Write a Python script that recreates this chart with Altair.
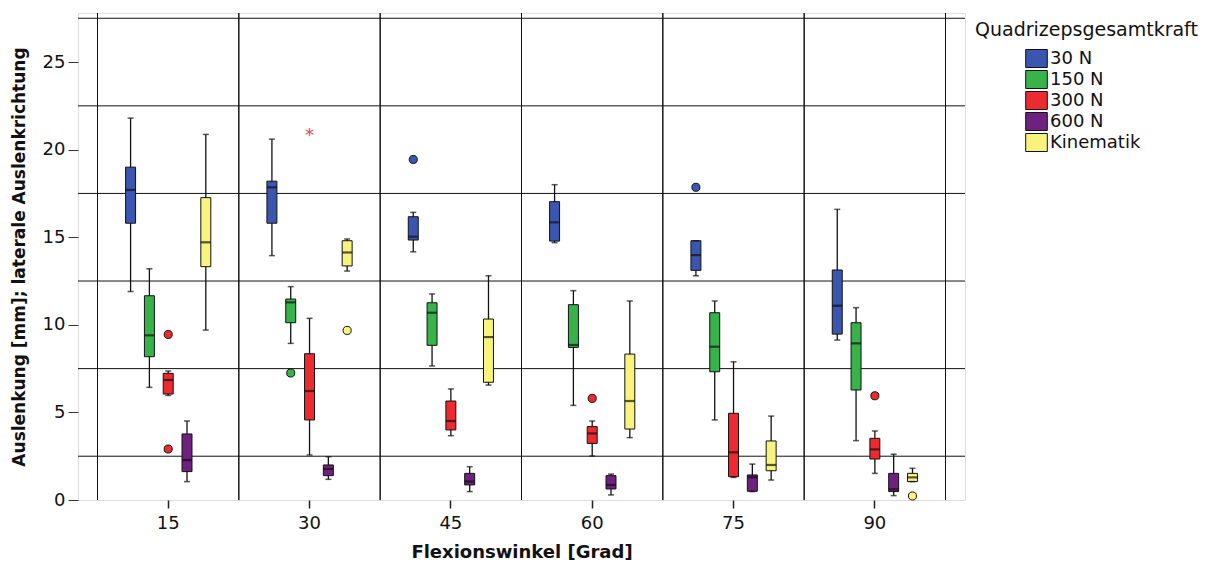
import altair as alt
import pandas as pd

# ---- data ----
angles = [15, 30, 45, 60, 75, 90]
series = ["30 N", "150 N", "300 N", "600 N", "Kinematik"]
colors = ["#3b56b1", "#37b34a", "#ec2a30", "#6f2180", "#f8f37c"]

# per series, one value per angle: lower whisker, Q1, median, Q3, upper whisker
lo = {
    "30 N":      [11.9, 13.95, 14.17, 14.69, 12.8, 9.13],
    "150 N":     [6.43, 8.94, 7.65, 5.40, 4.57, 3.39],
    "300 N":     [5.97, 2.57, 3.67, 2.51, 1.29, 1.52],
    "600 N":     [1.05, 1.18, 0.48, 0.29, 0.48, 0.25],
    "Kinematik": [9.70, 13.07, 6.56, 3.56, 1.14, 1.05],
}
q1 = {
    "30 N":      [15.8, 15.8, 14.84, 14.78, 13.11, 9.47],
    "150 N":     [8.18, 10.12, 8.83, 8.71, 7.32, 6.28],
    "300 N":     [6.05, 4.57, 4.00, 3.23, 1.33, 2.34],
    "600 N":     [1.62, 1.39, 0.86, 0.63, 0.50, 0.48],
    "Kinematik": [13.32, 13.36, 6.72, 4.05, 1.67, 1.05],
}
med = {
    "30 N":      [17.7, 17.85, 15.03, 15.85, 13.98, 11.09],
    "150 N":     [9.4, 11.28, 10.69, 8.85, 8.75, 8.94],
    "300 N":     [6.85, 6.22, 4.51, 3.80, 2.72, 2.89],
    "600 N":     [2.28, 1.77, 1.05, 0.86, 1.30, 0.61],
    "Kinematik": [14.71, 14.13, 9.30, 5.65, 2.0, 1.29],
}
q3 = {
    "30 N":      [19.0, 18.2, 16.17, 17.03, 14.8, 13.13],
    "150 N":     [11.66, 11.47, 11.26, 11.15, 10.69, 10.12],
    "300 N":     [7.23, 8.35, 5.65, 4.19, 4.95, 3.52],
    "600 N":     [3.77, 2.0, 1.52, 1.39, 1.43, 1.52],
    "Kinematik": [17.26, 14.8, 10.33, 8.33, 3.37, 1.52],
}
hi = {
    "30 N":      [21.8, 20.6, 16.42, 18.0, 14.8, 16.59],
    "150 N":     [13.2, 12.18, 11.76, 11.95, 11.36, 10.98],
    "300 N":     [7.36, 10.37, 6.34, 4.51, 7.89, 3.94],
    "600 N":     [4.51, 2.47, 1.90, 1.48, 2.05, 2.61],
    "Kinematik": [20.87, 14.9, 12.8, 11.36, 4.79, 1.81],
}

# outliers (circles) and extreme values (asterisks)
out_angle = [15, 15, 30, 30, 45, 60, 75, 90, 90]
out_series = ["300 N", "300 N", "150 N", "Kinematik", "30 N", "300 N", "30 N", "300 N", "Kinematik"]
out_value = [9.45, 2.91, 7.25, 9.68, 19.44, 5.80, 17.85, 5.95, 0.23]

ext_angle = [30]
ext_series = ["300 N"]
ext_value = [21.02]

y_ticks = [0, 5, 10, 15, 20, 25]
h_grid = [2.5, 7.5, 12.5, 17.5, 22.5, 27.5]

# ---- tables ----
rows = []
for s in series:
    for i, a in enumerate(angles):
        rows.append(dict(angle=a, series=s, lo=lo[s][i], q1=q1[s][i],
                         med=med[s][i], q3=q3[s][i], hi=hi[s][i]))
boxes = pd.DataFrame(rows)
outl = pd.DataFrame(dict(angle=out_angle, series=out_series, v=out_value))
ext = pd.DataFrame(dict(angle=ext_angle, series=ext_series, v=ext_value))
cats = pd.DataFrame(dict(angle=angles))
hg = pd.DataFrame(dict(v=h_grid))

FONT = "DejaVu Sans"

xscale = alt.Scale(domain=angles, paddingInner=0, paddingOuter=0.138)
yscale = alt.Scale(domain=[0, 27.8], nice=False, zero=False)
offscale = alt.Scale(domain=series, range=[28.1, 113.3], paddingInner=0.47, paddingOuter=0)
cscale = alt.Scale(domain=series, range=colors)

X = alt.X("angle:N", scale=xscale, sort=angles,
          axis=alt.Axis(title="Flexionswinkel [Grad]", labelAngle=0, labelAlign="center",
                        grid=False, domain=False, ticks=True, tickSize=8, tickColor="#222",
                        tickWidth=1.5, bandPosition=0.5,
                        labelFontSize=18, labelColor="#111", labelPadding=6,
                        titleFontSize=18, titleFontWeight="bold", titleColor="#111",
                        titlePadding=11))
XO = alt.XOffset("series:N", scale=offscale, sort=series)
Y = alt.Y("lo:Q", scale=yscale,
          axis=alt.Axis(title="Auslenkung [mm]; laterale Auslenkrichtung",
                        values=y_ticks, grid=False, domain=False, tickSize=10,
                        tickColor="#333", labelFontSize=18, labelColor="#111",
                        labelPadding=3, titleFontSize=17, titleFontWeight="bold",
                        titleColor="#111", titlePadding=14))
C = alt.Color("series:N", scale=cscale, sort=series,
              legend=alt.Legend(title=None, orient="none", legendX=949, legendY=36,
                                symbolType="M-1.2,-1H1.2V1H-1.2Z", symbolSize=324,
                                symbolStrokeColor="#111", symbolStrokeWidth=1,
                                symbolOpacity=1, labelFontSize=18, labelColor="#111",
                                labelOffset=4, rowPadding=-2, padding=0))

hgrid = alt.Chart(hg).mark_rule(color="#111", strokeWidth=1).encode(
    y=alt.Y("v:Q", scale=yscale))
vgrid_l = alt.Chart(cats).mark_rule(color="#111", strokeWidth=1).encode(
    x=alt.X("angle:N", scale=xscale, sort=angles, bandPosition=0))
vgrid_r = alt.Chart(cats).mark_rule(color="#111", strokeWidth=1).encode(
    x=alt.X("angle:N", scale=xscale, sort=angles, bandPosition=1))

base = alt.Chart(boxes)
whisk = base.mark_rule(color="#111", strokeWidth=1.3).encode(
    x=X, xOffset=XO, y=Y, y2="hi:Q")
box = base.mark_bar(stroke="#111", strokeWidth=1, opacity=1).encode(
    x=X, xOffset=XO, y=alt.Y("q1:Q", scale=yscale), y2="q3:Q", color=C)
median = base.mark_tick(color="#111", thickness=2.2, size=10, orient="horizontal").encode(
    x=X, xOffset=XO, y=alt.Y("med:Q", scale=yscale))
cap_lo = base.mark_tick(color="#111", thickness=1.5, size=6, orient="horizontal").encode(
    x=X, xOffset=XO, y=alt.Y("lo:Q", scale=yscale))
cap_hi = base.mark_tick(color="#111", thickness=1.5, size=6, orient="horizontal").encode(
    x=X, xOffset=XO, y=alt.Y("hi:Q", scale=yscale))
pts = alt.Chart(outl).mark_point(filled=True, shape="circle", size=65, stroke="#111",
                                 strokeWidth=1, opacity=1).encode(
    x=X, xOffset=XO, y=alt.Y("v:Q", scale=yscale), color=C)
stars = alt.Chart(ext).mark_text(text="*", fontSize=18, color="#e0455a", dy=4, font=FONT).encode(
    x=X, xOffset=XO, y=alt.Y("v:Q", scale=yscale))

chart = alt.layer(whisk, hgrid, vgrid_l, vgrid_r, box, median, cap_lo, cap_hi, pts, stars).properties(
    width=887, height=487,
    autosize=alt.AutoSizeParams(type="none"),
    padding={"left": 78, "top": 13, "right": 247, "bottom": 63},
    title=alt.TitleParams(text="Quadrizepsgesamtkraft", anchor="start", frame="group",
                          dx=897, dy=31, fontSize=19, fontWeight="normal", color="#111",
                          font=FONT),
).configure_view(stroke="#444", strokeWidth=1.5).configure(font=FONT)

chart.save("out.html", embed_options={"renderer": "svg", "actions": False})
